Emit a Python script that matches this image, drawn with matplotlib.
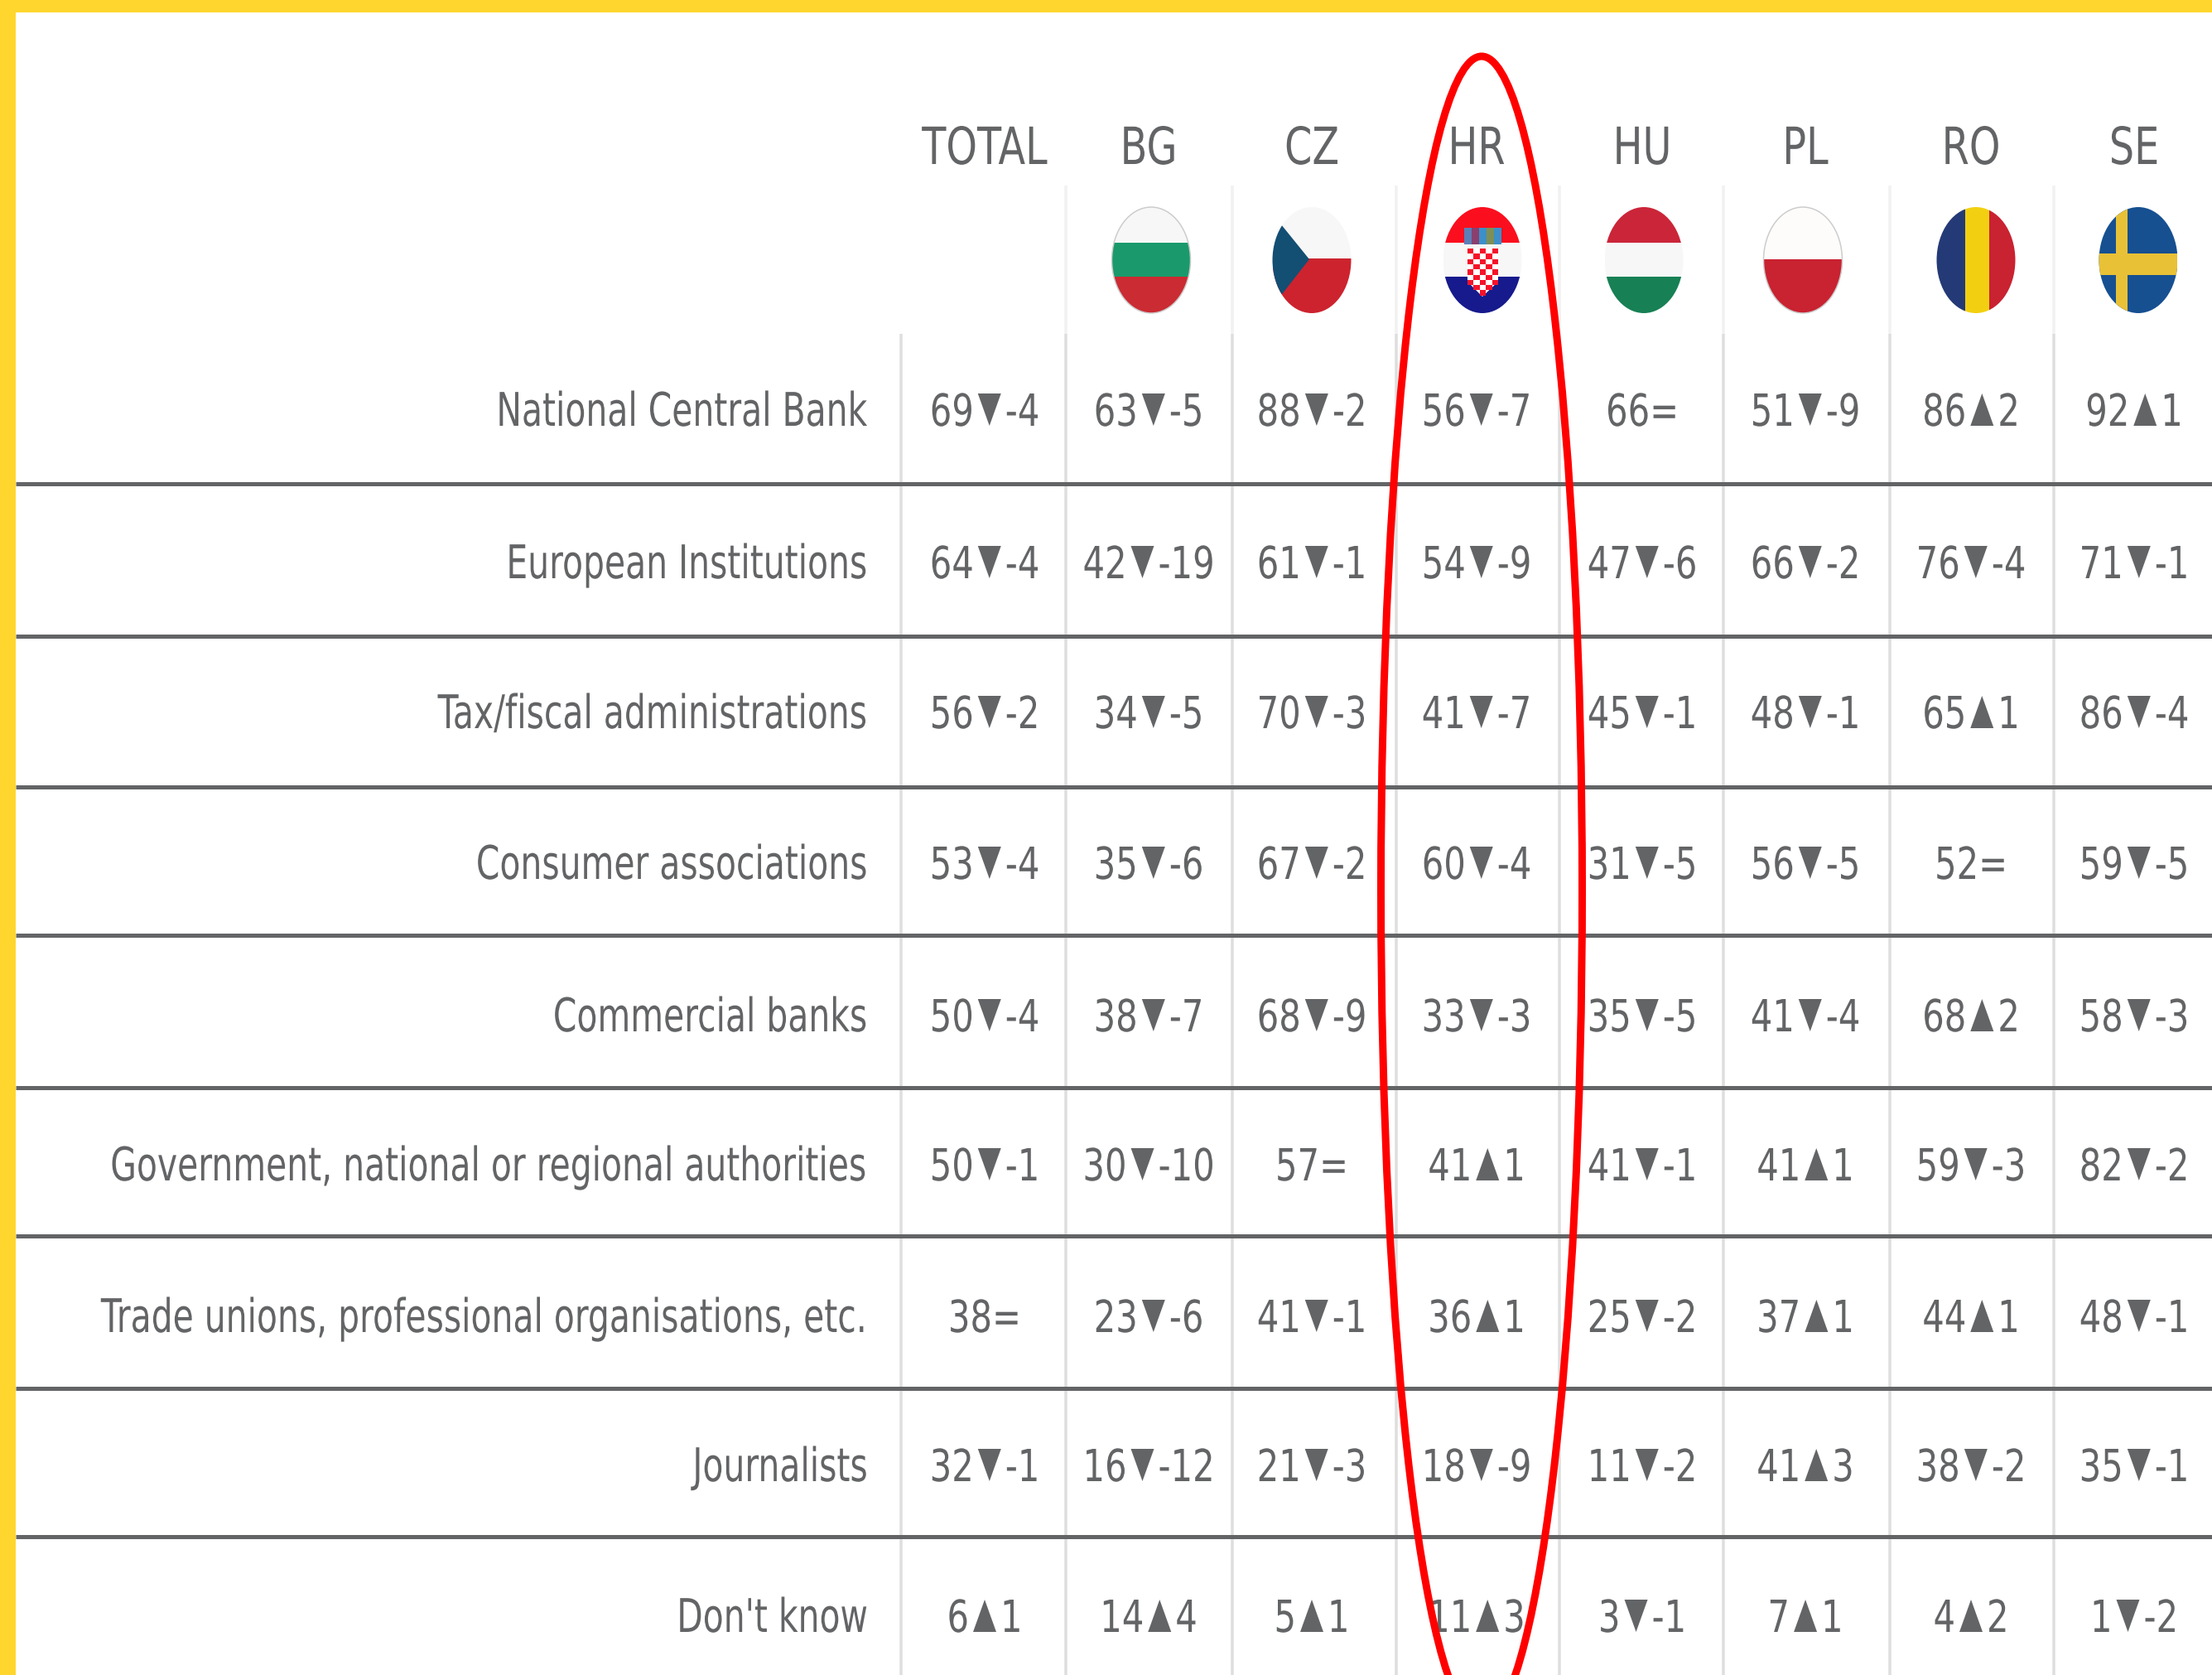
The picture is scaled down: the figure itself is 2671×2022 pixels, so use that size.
import matplotlib
matplotlib.use("Agg")
import matplotlib.pyplot as plt
from matplotlib.patches import Ellipse, Rectangle, Polygon
from matplotlib.patheffects import AbstractPathEffect
from matplotlib.transforms import Affine2D

# ---- data ----
countries = ["TOTAL", "BG", "CZ", "HR", "HU", "PL", "RO", "SE"]
institutions = ["National Central Bank", "European Institutions", "Tax/fiscal administrations",
                "Consumer associations", "Commercial banks", "Government, national or regional authorities",
                "Trade unions, professional organisations, etc.", "Journalists", "Don't know"]
row_national_bank = [69, 63, 88, 56, 66, 51, 86, 92]
row_european = [64, 42, 61, 54, 47, 66, 76, 71]
row_tax = [56, 34, 70, 41, 45, 48, 65, 86]
row_consumer = [53, 35, 67, 60, 31, 56, 52, 59]
row_commercial = [50, 38, 68, 33, 35, 41, 68, 58]
row_government = [50, 30, 57, 41, 41, 41, 59, 82]
row_trade = [38, 23, 41, 36, 25, 37, 44, 48]
row_journalists = [32, 16, 21, 18, 11, 41, 38, 35]
row_dontknow = [6, 14, 5, 11, 3, 7, 4, 1]
delta_national_bank = [-4, -5, -2, -7, 0, -9, 2, 1]
delta_european = [-4, -19, -1, -9, -6, -2, -4, -1]
delta_tax = [-2, -5, -3, -7, -1, -1, 1, -4]
delta_consumer = [-4, -6, -2, -4, -5, -5, 0, -5]
delta_commercial = [-4, -7, -9, -3, -5, -4, 2, -3]
delta_government = [-1, -10, 0, 1, -1, 1, -3, -2]
delta_trade = [0, -6, -1, 1, -2, 1, 1, -1]
delta_journalists = [-1, -12, -3, -9, -2, 3, -2, -1]
delta_dontknow = [1, 4, 1, 3, -1, 1, 2, -2]
values = [row_national_bank, row_european, row_tax, row_consumer, row_commercial,
          row_government, row_trade, row_journalists, row_dontknow]
deltas = [delta_national_bank, delta_european, delta_tax, delta_consumer, delta_commercial,
          delta_government, delta_trade, delta_journalists, delta_dontknow]

# ---- layout (pixels) ----
W, H = 2671, 2022
col_centers = [1189, 1387, 1584, 1783, 1983, 2180, 2380, 2577]
col_lines = [1088, 1287, 1488, 1686, 1883, 2081, 2282, 2480]
row_baselines = [514, 698, 879, 1061, 1245, 1425, 1608, 1788, 1970]
row_rules = [584, 768, 950, 1129, 1313, 1492, 1676, 1855]
TEXT = "#636466"

fig = plt.figure(figsize=(W / 100, H / 100), dpi=100, facecolor="white")
ax = fig.add_axes([0, 0, 1, 1])
ax.set_xlim(0, W)
ax.set_ylim(H, 0)
ax.axis("off")
px = 0.72
renderer = fig.canvas.get_renderer()


class TallGlyphs(AbstractPathEffect):
    """Stretch the glyph outlines vertically about the text's baseline."""

    def __init__(self, text, sy):
        super().__init__()
        self.text, self.sy = text, sy

    def draw_path(self, rend, gc, tpath, affine, rgbFace=None):
        y = self.text.get_transform().transform(self.text.get_unitless_position())[1]
        tall = affine + Affine2D().translate(0, -y).scale(1, self.sy).translate(0, y)
        rend.draw_path(gc, tpath, tall, rgbFace)


def label(x, y, s, size, sx, ha="center"):
    # size: apparent height in px; sx: resulting narrowness of the letterforms
    t = ax.text(x, y, s, ha=ha, va="baseline", fontsize=size * sx * px, color=TEXT,
                family="DejaVu Sans", zorder=3)
    t.set_path_effects([TallGlyphs(t, 1 / sx)])
    return t


def width(t):
    return t.get_window_extent(renderer).width


# frame
ax.add_patch(Rectangle((0, 0), W, 15, fc="#ffd62e", ec="none", zorder=5))
ax.add_patch(Rectangle((0, 0), 19, H, fc="#ffd62e", ec="none", zorder=5))

# grid
for i, x in enumerate(col_lines):
    ax.plot([x, x], [403, H], color="#dedede", lw=3.5 * px, solid_capstyle="butt", zorder=1)
    if i > 0:
        ax.plot([x, x], [224, 403], color="#f1f1f1", lw=3.5 * px, solid_capstyle="butt", zorder=1)
for y in row_rules:
    ax.plot([19, W], [y, y], color=TEXT, lw=5 * px, solid_capstyle="butt", zorder=2)

# headers
for x, name in zip(col_centers, countries):
    label(x, 198, name, 62, 0.77)

# row labels
for y, name in zip(row_baselines, institutions):
    label(1048, y, name, 56, 0.73, ha="right")

# cells
CELL, CELL_SX = 53.5, 0.78
TRI_W, TRI_H, GAP = 28, 39, 5

for r, y in enumerate(row_baselines):
    for c, cx in enumerate(col_centers):
        v, d = values[r][c], deltas[r][c]
        if d == 0:
            label(cx, y, f"{v}=", CELL, CELL_SX)
            continue
        t1 = label(0, y, str(v), CELL, CELL_SX, ha="left")
        t2 = label(0, y, str(d), CELL, CELL_SX, ha="left")
        w1, w2 = width(t1), width(t2)
        x0 = cx - (w1 + w2 + TRI_W + 2 * GAP) / 2
        t1.set_x(x0)
        tx = x0 + w1 + GAP
        t2.set_x(tx + TRI_W + GAP)
        if d < 0:
            pts = [(tx, y - TRI_H), (tx + TRI_W, y - TRI_H), (tx + TRI_W / 2, y)]
        else:
            pts = [(tx, y), (tx + TRI_W, y), (tx + TRI_W / 2, y - TRI_H)]
        ax.add_patch(Polygon(pts, fc=TEXT, ec="none", zorder=3))

# flags
FY, FW, FH = 314, 95, 128
top, bot = FY - FH / 2, FY + FH / 2


def flag(cx, shapes, edge=None):
    clip = Ellipse((cx, FY), FW, FH, fc="none", ec="none", transform=ax.transData)
    ax.add_patch(clip)
    for s in shapes:
        ax.add_patch(s)
        s.set_clip_path(clip)
    if edge:
        ax.add_patch(Ellipse((cx, FY), FW, FH, fc="none", ec=edge, lw=1.5 * px, zorder=4))


def hstripes(cx, ys, cols):
    return [Rectangle((cx - FW / 2, a), FW, b - a, fc=col, ec="none", zorder=3)
            for a, b, col in zip(ys[:-1], ys[1:], cols)]


flag(1390, hstripes(1390, [top, 293, 334, bot], ["#f7f7f7", "#1a9a6c", "#cb2b33"]), "#cccccc")
cz = 1584
flag(cz, hstripes(cz, [top, 312, bot], ["#f7f7f7", "#cd232e"]) +
     [Polygon([(cz - 54, 250), (cz - 3, 313), (cz - 54, 378)], fc="#134e73", ec="none", zorder=3)])
hr = 1790
hr_shapes = hstripes(hr, [top, 293, 334, bot], ["#fb0f1e", "#f7f7f7", "#161a8c"])
hr_shapes.append(Polygon([(hr - 18, 300), (hr + 19, 300), (hr + 19, 340), (hr, 358), (hr - 18, 340)],
                         fc="#ffffff", ec="none", zorder=3))
for i in range(5):
    for j in range(9):
        if (i + j) % 2 == 0 and not (j > 6 and i in (0, 4)):
            hr_shapes.append(Rectangle((hr - 18 + i * 7.4, 300 + j * 6.3), 7.4, 6.3, fc="#f5122a", ec="none", zorder=4))
for i, col in enumerate(["#5b7fb8", "#8a3f6e", "#3c8fc9", "#7f8f55", "#3c8fc9"]):
    hr_shapes.append(Rectangle((hr - 22 + i * 9, 275), 9, 20, fc=col, ec="none", zorder=4))
flag(hr, hr_shapes)
flag(1985, hstripes(1985, [top, 293, 334, bot], ["#cb2539", "#f7f7f7", "#178055"]))
flag(2177, hstripes(2177, [top, 313, bot], ["#fefcfb", "#c92231"]), "#cccccc")
ro = 2386
flag(ro, [Rectangle((ro - 48, top), 35, FH, fc="#243a77", ec="none", zorder=3),
          Rectangle((ro - 13, top), 29, FH, fc="#f2d011", ec="none", zorder=3),
          Rectangle((ro + 16, top), 33, FH, fc="#c92231", ec="none", zorder=3)])
se = 2582
flag(se, [Rectangle((se - 48, top), FW, FH, fc="#165091", ec="none", zorder=3),
          Rectangle((se - 27, top), 14, FH, fc="#e9c136", ec="none", zorder=4),
          Rectangle((se - 48, 306), FW, 26, fc="#e9c136", ec="none", zorder=4)])

# highlight ellipse around HR
ax.add_patch(Ellipse((1789, 1074), 243, 2012, fc="none", ec="#ff0000", lw=9 * px, zorder=6))

fig.savefig("out.png", dpi=100)
